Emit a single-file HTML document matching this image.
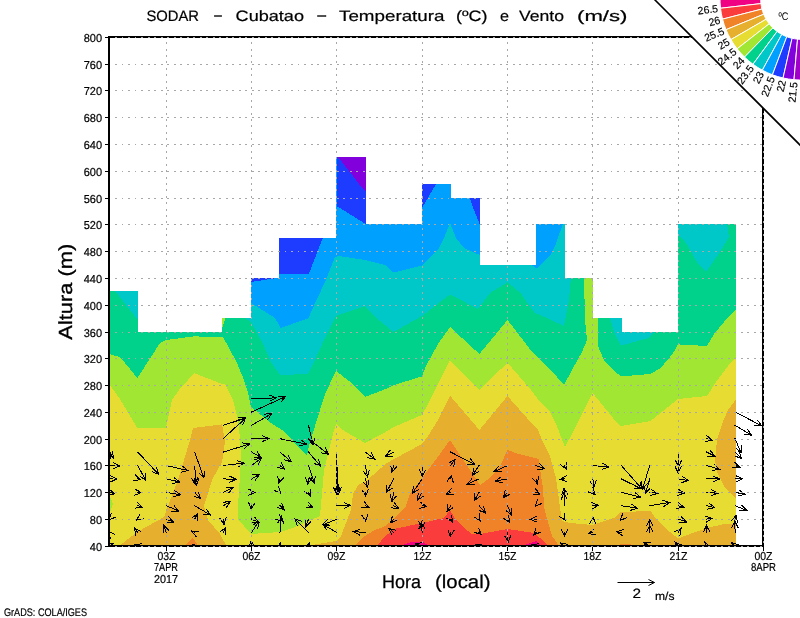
<!DOCTYPE html>
<html><head><meta charset="utf-8"><title>SODAR - Cubatao</title>
<style>html,body{margin:0;padding:0;background:#fff;width:800px;height:618px;overflow:hidden}</style></head>
<body>
<svg width="800" height="618" viewBox="0 0 800 618" style="display:block;position:absolute;left:0;top:0;will-change:transform" shape-rendering="crispEdges" text-rendering="geometricPrecision">
<rect width="800" height="618" fill="#fff"/>
<g>
<rect x="109" y="150" width="628" height="397" fill="#00a0ff"/>
<polygon points="251.0,278.0 277.0,278.0 251.0,282.0" fill="#1e3cff"/>
<polygon points="279.0,237.5 323.0,237.5 309.0,273.5 279.0,273.5" fill="#1e3cff"/>
<polygon points="336.5,157.0 365.5,157.0 365.5,224.0 349.0,213.6 336.5,206.0" fill="#1e3cff"/>
<polygon points="422.0,184.0 436.0,184.0 422.0,208.0" fill="#1e3cff"/>
<polygon points="470.0,198.0 479.5,198.0 479.5,224.0 474.0,210.0" fill="#1e3cff"/>
<polygon points="338.0,157.0 365.5,157.0 365.5,190.6 359.0,184.0 353.0,176.0" fill="#8200dc"/>
<polygon points="109.0,200.0 251.0,200.0 251.0,303.0 275.0,318.0 280.6,328.0 309.0,318.0 311.0,312.0 325.0,282.0 335.0,257.0 339.0,256.0 365.0,260.0 385.0,265.0 393.0,272.0 396.0,272.0 422.0,265.6 438.0,250.0 444.0,238.0 450.0,223.0 456.0,238.0 464.0,248.0 479.8,255.0 500.0,262.0 531.0,264.6 537.0,268.5 550.0,256.0 556.0,244.0 560.0,232.0 563.0,224.0 565.0,215.0 565.0,200.0 740.0,200.0 745.0,200.0 745.0,560.0 100.0,560.0 100.0,200.0" fill="#00c8c8"/>
<polygon points="109.0,280.0 115.0,291.0 138.0,320.0 140.0,315.0 244.0,315.0 245.0,318.0 251.0,322.0 263.0,344.0 271.0,362.0 280.0,375.0 308.0,374.0 313.0,364.0 325.0,338.0 336.0,316.0 365.0,306.0 375.0,317.0 393.6,332.0 422.0,316.0 450.0,294.4 478.0,309.0 490.0,293.0 507.5,282.4 520.5,293.0 534.6,313.0 538.0,314.0 564.0,326.0 569.0,300.0 571.0,277.6 571.0,270.0 610.0,270.0 610.0,318.0 614.0,332.0 621.0,345.6 648.5,338.0 654.5,331.6 655.0,325.0 677.7,325.0 677.7,236.0 682.0,238.0 688.0,246.0 698.0,264.0 706.0,272.0 720.0,252.0 729.0,237.0 727.0,224.0 727.0,215.0 740.0,215.0 745.0,215.0 745.0,560.0 100.0,560.0 100.0,280.0" fill="#00d28c"/>
<polygon points="109.0,354.0 120.0,357.0 137.4,378.0 160.0,343.0 166.0,340.0 194.0,336.4 222.0,337.0 223.0,337.0 236.5,362.0 244.0,380.0 248.0,392.0 251.0,407.0 271.0,423.0 285.0,432.0 301.0,450.0 307.0,455.0 310.0,442.0 315.0,426.0 325.0,394.0 336.0,371.0 353.0,384.0 365.0,397.0 385.6,389.0 394.0,385.0 422.0,376.4 426.0,366.0 438.0,344.0 450.0,327.0 479.4,354.0 507.5,320.0 530.6,350.0 550.0,369.0 564.0,385.0 572.0,370.0 582.0,352.0 587.0,340.0 585.0,320.0 584.0,277.6 584.0,270.0 598.0,270.0 598.0,318.0 598.0,346.0 604.0,360.0 614.0,371.0 621.0,376.4 650.5,374.0 654.0,372.0 660.5,368.0 672.6,354.0 678.0,344.4 707.0,346.0 714.0,334.0 724.0,322.0 736.0,309.0 740.0,305.0 745.0,305.0 745.0,560.0 100.0,560.0 100.0,354.0" fill="#a0e632"/>
<polygon points="109.0,384.0 110.0,385.0 120.0,399.0 137.0,427.6 166.0,427.6 172.0,400.0 182.0,386.0 188.0,380.0 194.0,373.0 222.0,384.0 225.0,384.0 233.0,400.0 238.0,420.0 240.0,438.0 241.0,460.0 238.0,506.0 238.0,519.0 250.0,533.0 251.0,534.0 280.0,532.0 293.0,528.0 309.0,521.0 320.0,516.0 322.0,494.0 324.0,470.0 329.0,450.0 333.0,434.0 336.0,424.0 341.0,429.0 365.0,443.0 385.6,432.0 394.0,427.0 422.0,415.0 428.0,404.0 450.0,360.0 479.4,390.0 507.5,362.7 531.0,390.0 540.0,402.0 550.0,412.0 556.0,424.0 565.0,447.0 572.0,434.0 577.0,424.0 592.6,393.0 618.0,424.0 621.0,426.0 650.5,421.0 678.0,399.0 707.0,396.0 716.0,382.0 728.0,366.0 736.0,357.0 740.0,353.0 745.0,353.0 745.0,560.0 100.0,560.0 100.0,384.0" fill="#e6dc32"/>
<polygon points="109.0,494.0 113.0,504.0 109.0,516.0" fill="#a0e632"/>
<polygon points="222.0,318.0 225.5,318.0 222.0,329.0" fill="#a0e632"/>
<polygon points="118.0,547.0 137.0,532.0 148.0,526.0 164.0,517.0 168.0,506.0 174.0,490.0 178.0,480.0 184.0,460.0 190.0,440.0 193.0,428.0 222.0,424.4 225.0,442.0 222.0,462.0 212.0,480.0 206.0,500.0 204.0,506.0 208.0,520.0 220.0,534.0 227.0,547.0" fill="#e6af2d"/>
<polygon points="300.0,547.0 336.0,541.0 341.0,536.0 351.0,510.0 353.0,494.0 359.0,484.0 365.0,482.0 385.6,464.0 394.0,459.0 422.0,444.0 428.0,436.0 438.0,420.0 450.0,395.6 479.4,430.0 507.5,396.0 530.6,422.0 538.0,430.0 542.0,440.0 550.0,456.0 556.0,478.0 559.0,500.0 562.0,521.0 570.0,523.0 592.0,525.0 598.0,523.0 614.0,518.0 621.0,512.0 650.5,511.0 657.0,520.0 670.0,532.0 678.0,538.5 690.0,534.0 707.0,528.0 724.0,524.0 736.0,524.0 740.0,524.0 740.0,560.0 300.0,560.0" fill="#e6af2d"/>
<polygon points="737.0,398.0 728.0,410.0 722.0,424.0 717.0,440.0 715.0,460.0 717.0,472.0 724.0,486.0 737.0,500.0" fill="#e6af2d"/>
<polygon points="183.0,547.0 193.0,538.0 199.0,547.0" fill="#f08228"/>
<polygon points="353.0,547.0 365.0,536.0 375.0,530.0 385.6,526.0 393.6,519.0 405.0,508.0 410.0,494.0 422.0,478.0 440.0,454.0 450.0,440.0 458.0,452.0 470.0,470.0 480.0,485.0 490.0,478.0 500.0,466.0 507.5,450.0 518.5,454.0 538.6,459.0 542.6,486.0 544.6,510.0 552.0,536.0 560.0,547.0" fill="#f08228"/>
<polygon points="616.0,547.0 622.0,543.5 630.0,543.5 634.0,547.0" fill="#f08228"/>
<polygon points="375.5,547.0 385.6,536.0 394.0,529.0 422.0,523.0 444.0,518.0 450.0,510.0 456.0,520.0 464.0,528.0 472.0,534.0 480.0,534.0 507.5,529.0 534.6,533.0 540.0,538.0 550.0,547.0" fill="#fa3c3c"/>
<polygon points="396.0,547.0 410.0,542.5 422.0,541.5 431.0,547.0" fill="#f00082"/>
<polygon points="518.0,547.0 536.0,541.0 542.0,547.0" fill="#f00082"/>
</g>
<path fill-rule="evenodd" fill="#fff" d="M0,0H800V618H0Z M110,546 L110,291 L138,291 L138,332 L222,332 L222,318 L251,318 L251,278 L279,278 L279,238 L336,238 L336,157 L366,157 L366,224 L422,224 L422,184 L451,184 L451,198 L480,198 L480,265 L536,265 L536,224 L565,224 L565,278 L593,278 L593,318 L622,318 L622,332 L678,332 L678,224 L736,224 L736,546 Z"/>
<clipPath id="pc"><rect x="109" y="37" width="654" height="509"/></clipPath><g clip-path="url(#pc)" stroke="#000" stroke-width="1" fill="none" stroke-linecap="square" shape-rendering="crispEdges"><path d="M109.4,545.9L113.5,543.6M109.4,549.3L113.5,543.6L106.5,544.1 M109.4,532.5L108.6,531.5M114.9,534.6L108.6,531.5L110.2,538.3 M109.4,519.1L108.9,519.6M111.3,513.0L108.9,519.6L115.5,517.3 M109.4,492.3L114.4,493.9M107.5,494.8L114.4,493.9L109.3,489.1 M109.4,478.9L116.9,479.1M110.5,481.9L116.9,479.1L110.6,476.0 M109.4,465.5L119.7,466.0M113.2,468.7L119.7,466.0L113.5,462.7 M109.4,452.1L113.5,458.0M107.4,454.5L113.5,458.0L112.3,451.1 M109.4,438.7L110.3,458.5M107.0,452.3L110.3,458.5L113.0,452.0 M137.8,545.9L134.5,545.0M141.4,543.8L134.5,545.0L139.8,549.5 M137.8,532.5L134.5,528.1M140.7,531.3L134.5,528.1L135.9,535.0 M137.8,519.1L136.5,520.0M140.1,514.0L136.5,520.0L143.4,519.0 M137.8,505.7L142.5,507.3M135.5,508.1L142.5,507.3L137.5,502.4 M137.8,492.3L141.3,492.5M134.8,495.2L141.3,492.5L135.1,489.2 M137.8,478.9L140.3,479.8M133.3,480.5L140.3,479.8L135.3,474.9 M137.8,465.5L145.8,480.5M140.2,476.3L145.8,480.5L145.5,473.5 M137.8,452.1L158.7,474.4M152.2,471.8L158.7,474.4L156.6,467.7 M166.3,532.5L163.8,525.4M168.7,530.4L163.8,525.4L163.1,532.4 M166.3,519.1L173.5,522.0M166.5,522.4L173.5,522.0L168.7,516.9 M166.3,505.7L178.8,511.0M171.8,511.3L178.8,511.0L174.1,505.8 M166.3,492.3L180.6,494.8M173.9,496.6L180.6,494.8L174.9,490.7 M166.3,478.9L179.8,482.0M172.9,483.5L179.8,482.0L174.2,477.7 M166.3,465.5L188.1,470.6M181.3,472.1L188.1,470.6L182.6,466.3 M194.7,545.9L193.0,544.5M199.8,546.2L193.0,544.5L196.0,550.8 M194.7,532.5L191.5,531.0M198.5,531.0L191.5,531.0L196.0,536.4 M194.7,519.1L197.5,513.7M197.3,520.7L197.5,513.7L191.9,518.0 M194.7,505.7L210.4,515.0M203.4,514.3L210.4,515.0L206.5,509.2 M194.7,492.3L200.6,498.8M194.1,496.1L200.6,498.8L198.5,492.1 M194.7,478.9L195.2,484.5M191.7,478.5L195.2,484.5L197.6,477.9 M194.7,465.5L196.2,485.6M192.8,479.5L196.2,485.6L198.7,479.1 M194.7,452.1L203.9,478.1M199.0,473.1L203.9,478.1L204.6,471.1 M223.2,532.5L225.6,527.5M225.5,534.5L225.6,527.5L220.1,531.9 M223.2,519.1L224.0,524.4M220.1,518.6L224.0,524.4L226.0,517.7 M223.2,505.7L230.3,501.6M226.3,507.4L230.3,501.6L223.3,502.2 M223.2,492.3L233.1,487.5M228.7,493.0L233.1,487.5L226.1,487.6 M223.2,478.9L236.2,479.4M229.8,482.2L236.2,479.4L230.0,476.2 M223.2,465.5L244.4,463.1M238.5,466.8L244.4,463.1L237.8,460.8 M223.2,452.1L249.5,444.0M244.3,448.7L249.5,444.0L242.6,443.0 M223.2,438.7L245.6,417.8M243.0,424.3L245.6,417.8L238.9,419.9 M223.2,425.3L245.6,418.1M240.5,422.9L245.6,418.1L238.7,417.2 M251.6,545.9L251.0,541.0M254.7,546.9L251.0,541.0L248.8,547.6 M251.6,532.5L258.8,521.2M257.9,528.2L258.8,521.2L252.8,525.0 M251.6,519.1L259.4,522.8M252.4,522.8L259.4,522.8L254.9,517.4 M251.6,505.7L251.4,509.4M248.8,502.9L251.4,509.4L254.7,503.2 M251.6,492.3L255.2,492.5M248.7,495.2L255.2,492.5L249.0,489.2 M251.6,478.9L259.4,474.4M255.4,480.2L259.4,474.4L252.4,475.0 M251.6,465.5L261.5,458.1M258.2,464.3L261.5,458.1L254.6,459.5 M251.6,452.1L261.2,457.5M254.3,457.0L261.2,457.5L257.2,451.8 M251.6,438.7L268.5,438.5M262.2,441.6L268.5,438.5L262.1,435.6 M251.6,425.3L271.9,413.5M267.9,419.3L271.9,413.5L264.9,414.1 M251.6,412.0L285.6,396.6M281.1,401.9L285.6,396.6L278.6,396.5 M251.6,398.6L276.2,397.9M270.0,401.1L276.2,397.9L269.8,395.1 M280.0,545.9L280.2,542.8M282.9,549.3L280.2,542.8L276.9,549.0 M280.0,532.5L281.4,516.5M283.8,523.1L281.4,516.5L277.9,522.6 M280.0,519.1L282.5,521.0M275.7,519.5L282.5,521.0L279.3,514.8 M280.0,505.7L284.2,509.9M277.6,507.5L284.2,509.9L281.9,503.3 M280.0,492.3L280.7,493.0M274.1,490.5L280.7,493.0L278.4,486.4 M280.0,478.9L278.8,483.1M277.8,476.2L278.8,483.1L283.5,477.9 M280.0,465.5L284.4,469.0M277.6,467.4L284.4,469.0L281.3,462.7 M280.0,452.1L291.3,461.8M284.5,459.9L291.3,461.8L288.4,455.4 M280.0,438.7L306.5,444.1M299.7,445.8L306.5,444.1L300.9,439.9 M308.5,545.9L309.5,542.8M310.4,549.7L309.5,542.8L304.7,547.9 M308.5,532.5L295.0,518.9M301.6,521.3L295.0,518.9L297.3,525.5 M308.5,519.1L305.9,526.6M305.1,519.6L305.9,526.6L310.8,521.6 M308.5,505.7L313.1,507.9M306.1,507.9L313.1,507.9L308.7,502.5 M308.5,492.3L310.2,496.0M304.8,491.6L310.2,496.0L310.2,489.0 M308.5,478.9L307.9,484.1M305.6,477.5L307.9,484.1L311.6,478.1 M308.5,465.5L314.4,483.1M309.5,478.1L314.4,483.1L315.2,476.1 M308.5,452.1L320.6,466.2M314.2,463.4L320.6,466.2L318.7,459.5 M308.5,438.7L328.5,454.4M321.7,452.9L328.5,454.4L325.4,448.1 M308.5,425.3L313.1,445.0M308.7,439.5L313.1,445.0L314.6,438.2 M336.9,532.5L323.0,524.5M330.0,525.1L323.0,524.5L327.0,530.2 M336.9,519.1L322.5,524.9M327.3,519.8L322.5,524.9L329.5,525.3 M336.9,505.7L350.6,505.4M344.3,508.5L350.6,505.4L344.2,502.6 M336.9,492.3L337.0,494.3M333.8,488.1L337.0,494.3L339.7,487.9 M336.9,478.9L337.3,494.5M334.2,488.2L337.3,494.5L340.1,488.1 M336.9,465.5L338.6,494.4M335.2,488.3L338.6,494.4L341.2,487.9 M336.9,452.1L336.3,494.0M333.4,487.6L336.3,494.0L339.4,487.7 M365.4,532.5L353.5,531.6M360.0,529.1L353.5,531.6L359.6,535.1 M365.4,519.1L365.6,521.0M361.8,515.1L365.6,521.0L367.8,514.3 M365.4,505.7L368.8,507.4M361.8,507.3L368.8,507.4L364.4,501.9 M365.4,492.3L365.6,496.2M362.2,490.1L365.6,496.2L368.2,489.7 M365.4,478.9L367.6,487.1M363.0,481.8L367.6,487.1L368.8,480.2 M365.4,465.5L367.5,477.0M363.4,471.3L367.5,477.0L369.3,470.2 M365.4,452.1L374.8,459.2M367.9,457.8L374.8,459.2L371.5,453.0 M393.8,532.5L388.8,528.5M395.6,530.1L388.8,528.5L391.8,534.8 M393.8,519.1L390.6,522.9M392.4,516.1L390.6,522.9L397.0,520.0 M393.8,505.7L398.5,508.3M391.5,507.9L398.5,508.3L394.4,502.6 M393.8,492.3L391.9,501.8M390.2,495.0L391.9,501.8L396.1,496.2 M393.8,478.9L386.2,492.4M386.7,485.4L386.2,492.4L392.0,488.3 M393.8,465.5L391.9,472.2M390.7,465.3L391.9,472.2L396.5,467.0 M393.8,452.1L385.4,456.0M389.9,450.6L385.4,456.0L392.4,456.1 M422.2,545.9L415.0,544.0M421.9,542.7L415.0,544.0L420.4,548.5 M422.2,532.5L421.2,522.2M424.8,528.3L421.2,522.2L418.9,528.8 M422.2,519.1L421.2,528.5M418.9,521.9L421.2,528.5L424.9,522.5 M422.2,505.7L426.5,506.5M419.7,508.3L426.5,506.5L420.8,502.4 M422.2,492.3L417.5,500.2M418.2,493.3L417.5,500.2L423.3,496.4 M422.2,478.9L412.2,493.4M413.4,486.5L412.2,493.4L418.3,489.9 M422.2,465.5L422.5,476.4M419.4,470.1L422.5,476.4L425.3,470.0 M450.7,532.5L450.2,536.6M447.9,530.0L450.2,536.6L453.9,530.6 M450.7,519.1L452.5,522.0M446.6,518.2L452.5,522.0L451.7,515.1 M450.7,505.7L446.9,511.6M447.8,504.7L446.9,511.6L452.8,507.9 M450.7,492.3L446.5,494.0M451.3,488.9L446.5,494.0L453.5,494.4 M450.7,478.9L451.2,475.4M453.2,482.1L451.2,475.4L447.3,481.2 M450.7,465.5L455.0,459.5M453.7,466.4L455.0,459.5L448.9,462.9 M450.7,452.1L474.8,464.5M467.8,464.3L474.8,464.5L470.5,458.9 M479.1,545.9L482.0,545.0M476.9,549.7L482.0,545.0L475.1,544.0 M479.1,532.5L481.2,534.5M474.6,532.4L481.2,534.5L478.7,528.0 M479.1,519.1L480.2,521.0M474.4,517.1L480.2,521.0L479.6,514.0 M479.1,505.7L485.6,513.2M479.2,510.4L485.6,513.2L483.7,506.5 M479.1,492.3L474.4,500.4M475.0,493.4L474.4,500.4L480.2,496.4 M479.1,478.9L467.2,484.2M471.8,478.9L467.2,484.2L474.2,484.4 M479.1,465.5L472.5,475.1M473.6,468.2L472.5,475.1L478.6,471.6 M507.6,532.5L508.1,542.2M504.8,536.1L508.1,542.2L510.7,535.8 M507.6,519.1L509.4,522.2M503.6,518.3L509.4,522.2L508.8,515.3 M507.6,505.7L511.5,515.4M506.3,510.7L511.5,515.4L511.9,508.4 M507.6,492.3L503.5,497.5M505.1,490.7L503.5,497.5L509.8,494.4 M507.6,478.9L495.4,481.0M501.1,477.0L495.4,481.0L502.1,482.9 M507.6,465.5L494.0,471.8M498.5,466.4L494.0,471.8L501.0,471.8 M536.0,545.9L532.0,544.5M539.0,543.8L532.0,544.5L537.0,549.4 M536.0,532.5L533.8,535.0M535.8,528.3L533.8,535.0L540.2,532.3 M536.0,519.1L530.4,519.4M536.6,516.1L530.4,519.4L536.9,522.1 M536.0,505.7L535.5,506.3M537.3,499.5L535.5,506.3L541.9,503.4 M536.0,492.3L540.1,494.0M533.1,494.4L540.1,494.0L535.4,488.8 M536.0,478.9L537.5,483.9M532.8,478.7L537.5,483.9L538.5,477.0 M536.0,465.5L544.8,468.9M537.8,469.4L544.8,468.9L539.9,463.8 M564.4,545.9L560.5,543.0M567.4,544.3L560.5,543.0L563.8,549.2 M564.4,532.5L564.4,536.2M561.5,529.9L564.4,536.2L567.5,530.0 M564.4,519.1L565.0,520.0M559.1,516.2L565.0,520.0L564.2,513.1 M564.4,505.7L564.0,492.9M567.2,499.1L564.0,492.9L561.2,499.3 M564.4,492.3L564.0,488.3M567.7,494.3L564.0,488.3L561.7,494.9 M564.4,478.9L560.2,479.4M566.2,475.7L560.2,479.4L566.9,481.7 M564.4,465.5L566.2,469.2M560.8,464.9L566.2,469.2L566.2,462.3 M592.9,532.5L588.8,533.5M594.2,529.1L588.8,533.5L595.6,534.9 M592.9,519.1L592.9,517.0M595.8,523.4L592.9,517.0L589.8,523.3 M592.9,505.7L598.5,505.2M592.4,508.8L598.5,505.2L591.9,502.8 M592.9,492.3L595.0,494.6M588.5,492.0L595.0,494.6L592.9,487.9 M592.9,478.9L593.8,487.2M590.1,481.3L593.8,487.2L596.1,480.6 M592.9,465.5L608.8,467.0M602.2,469.4L608.8,467.0L602.7,463.4 M621.3,532.5L616.6,531.9M623.3,529.7L616.6,531.9L622.5,535.7 M621.3,519.1L620.3,520.1M622.8,513.5L620.3,520.1L626.9,517.8 M621.3,505.7L637.6,508.2M630.9,510.2L637.6,508.2L631.8,504.3 M621.3,492.3L640.6,497.1M633.7,498.5L640.6,497.1L635.2,492.7 M621.3,478.9L641.2,488.7M634.3,488.6L641.2,488.7L636.9,483.2 M621.3,465.5L641.9,488.9M635.5,486.1L641.9,488.9L640.0,482.2 M649.8,545.9L643.5,542.2M650.5,542.9L643.5,542.2L647.5,548.0 M649.8,532.5L649.8,519.1M652.7,525.4L649.8,519.1L646.8,525.4 M649.8,532.5L649.8,525.4M652.8,531.7L649.8,525.4L646.8,531.7 M649.8,505.7L669.8,502.4M664.0,506.4L669.8,502.4L663.0,500.5 M649.8,492.3L657.5,493.4M650.8,495.5L657.5,493.4L651.6,489.6 M649.8,478.9L645.6,493.2M644.5,486.3L645.6,493.2L650.2,488.0 M649.8,465.5L642.5,488.9M641.5,482.0L642.5,488.9L647.2,483.7 M678.2,545.9L675.0,542.2M681.4,545.0L675.0,542.2L676.9,549.0 M678.2,532.5L681.2,528.2M680.0,535.1L681.2,528.2L675.1,531.7 M678.2,519.1L686.5,522.0M679.5,522.7L686.5,522.0L681.5,517.1 M678.2,505.7L683.8,507.2M676.9,508.4L683.8,507.2L678.4,502.7 M678.2,492.3L684.4,493.0M677.8,495.3L684.4,493.0L678.4,489.3 M678.2,478.9L688.5,480.6M681.8,482.5L688.5,480.6L682.7,476.6 M678.2,465.5L678.2,473.0M675.2,466.7L678.2,473.0L681.2,466.7 M678.2,452.1L678.8,466.8M675.5,460.5L678.8,466.8L681.5,460.3 M706.6,545.9L705.0,542.5M710.4,546.9L705.0,542.5L705.1,549.5 M706.6,532.5L706.4,525.3M709.6,531.5L706.4,525.3L703.6,531.7 M706.6,519.1L712.0,518.3M706.2,522.2L712.0,518.3L705.3,516.3 M706.6,505.7L714.8,507.6M707.9,509.1L714.8,507.6L709.3,503.3 M706.6,492.3L717.8,493.3M711.2,495.7L717.8,493.3L711.8,489.8 M706.6,478.9L719.5,479.0M713.2,482.0L719.5,479.0L713.2,476.0 M706.6,465.5L719.6,469.3M712.7,470.4L719.6,469.3L714.4,464.7 M706.6,452.1L714.8,456.2M707.8,456.1L714.8,456.2L710.5,450.7 M706.6,438.7L712.2,440.0M705.4,441.5L712.2,440.0L706.7,435.7 M735.1,545.9L731.5,542.5M738.1,544.7L731.5,542.5L734.0,549.0 M735.1,532.5L734.8,521.0M737.9,527.3L734.8,521.0L732.0,527.4 M735.1,519.1L736.0,515.3M737.4,522.2L736.0,515.3L731.6,520.7 M735.1,505.7L746.8,510.4M739.8,510.8L746.8,510.4L742.0,505.3 M735.1,492.3L744.9,494.3M738.1,496.0L744.9,494.3L739.3,490.1 M735.1,478.9L742.6,478.7M736.4,481.9L742.6,478.7L736.2,475.9 M735.1,465.5L739.8,467.2M732.8,467.9L739.8,467.2L734.8,462.3 M735.1,452.1L741.5,458.4M734.9,456.1L741.5,458.4L739.1,451.8 M735.1,438.7L741.0,452.8M735.8,448.1L741.0,452.8L741.3,445.8 M735.1,425.3L751.5,435.2M744.5,434.5L751.5,435.2L747.6,429.4 M735.1,412.0L761.9,425.9M754.9,425.6L761.9,425.9L757.7,420.3"/></g>
<g stroke="#000" fill="none">
<line x1="108" y1="37" x2="764" y2="37" stroke-width="2"/>
<line x1="108" y1="546" x2="764" y2="546" stroke-width="2"/>
<line x1="109" y1="36" x2="109" y2="547" stroke-width="2"/>
<line x1="763" y1="36" x2="763" y2="547" stroke-width="2"/>
<line x1="105" x2="109" y1="546.5" y2="546.5" stroke-width="1"/>
<line x1="105" x2="109" y1="519.5" y2="519.5" stroke-width="1"/>
<line x1="105" x2="109" y1="492.5" y2="492.5" stroke-width="1"/>
<line x1="105" x2="109" y1="465.5" y2="465.5" stroke-width="1"/>
<line x1="105" x2="109" y1="439.5" y2="439.5" stroke-width="1"/>
<line x1="105" x2="109" y1="412.5" y2="412.5" stroke-width="1"/>
<line x1="105" x2="109" y1="385.5" y2="385.5" stroke-width="1"/>
<line x1="105" x2="109" y1="358.5" y2="358.5" stroke-width="1"/>
<line x1="105" x2="109" y1="332.5" y2="332.5" stroke-width="1"/>
<line x1="105" x2="109" y1="305.5" y2="305.5" stroke-width="1"/>
<line x1="105" x2="109" y1="278.5" y2="278.5" stroke-width="1"/>
<line x1="105" x2="109" y1="251.5" y2="251.5" stroke-width="1"/>
<line x1="105" x2="109" y1="224.5" y2="224.5" stroke-width="1"/>
<line x1="105" x2="109" y1="198.5" y2="198.5" stroke-width="1"/>
<line x1="105" x2="109" y1="171.5" y2="171.5" stroke-width="1"/>
<line x1="105" x2="109" y1="144.5" y2="144.5" stroke-width="1"/>
<line x1="105" x2="109" y1="117.5" y2="117.5" stroke-width="1"/>
<line x1="105" x2="109" y1="90.5" y2="90.5" stroke-width="1"/>
<line x1="105" x2="109" y1="64.5" y2="64.5" stroke-width="1"/>
<line x1="105" x2="109" y1="37.5" y2="37.5" stroke-width="1"/>
<line y1="546" y2="551" x1="166.5" x2="166.5" stroke-width="1"/>
<line y1="546" y2="551" x1="251.5" x2="251.5" stroke-width="1"/>
<line y1="546" y2="551" x1="336.5" x2="336.5" stroke-width="1"/>
<line y1="546" y2="551" x1="422.5" x2="422.5" stroke-width="1"/>
<line y1="546" y2="551" x1="507.5" x2="507.5" stroke-width="1"/>
<line y1="546" y2="551" x1="592.5" x2="592.5" stroke-width="1"/>
<line y1="546" y2="551" x1="678.5" x2="678.5" stroke-width="1"/>
<line y1="546" y2="551" x1="763.5" x2="763.5" stroke-width="1"/>
</g>
<g stroke="#a8a8a8" stroke-width="1" stroke-dasharray="1.9 4.62" fill="none">
<line x1="115" x2="762.5" y1="546.5" y2="546.5"/>
<line x1="115" x2="762.5" y1="519.5" y2="519.5"/>
<line x1="115" x2="762.5" y1="492.5" y2="492.5"/>
<line x1="115" x2="762.5" y1="465.5" y2="465.5"/>
<line x1="115" x2="762.5" y1="439.5" y2="439.5"/>
<line x1="115" x2="762.5" y1="412.5" y2="412.5"/>
<line x1="115" x2="762.5" y1="385.5" y2="385.5"/>
<line x1="115" x2="762.5" y1="358.5" y2="358.5"/>
<line x1="115" x2="762.5" y1="332.5" y2="332.5"/>
<line x1="115" x2="762.5" y1="305.5" y2="305.5"/>
<line x1="115" x2="762.5" y1="278.5" y2="278.5"/>
<line x1="115" x2="762.5" y1="251.5" y2="251.5"/>
<line x1="115" x2="762.5" y1="224.5" y2="224.5"/>
<line x1="115" x2="762.5" y1="198.5" y2="198.5"/>
<line x1="115" x2="762.5" y1="171.5" y2="171.5"/>
<line x1="115" x2="762.5" y1="144.5" y2="144.5"/>
<line x1="115" x2="762.5" y1="117.5" y2="117.5"/>
<line x1="115" x2="762.5" y1="90.5" y2="90.5"/>
<line x1="115" x2="762.5" y1="64.5" y2="64.5"/>
<line x1="115" x2="762.5" y1="37.5" y2="37.5"/>
<line y1="42.2" y2="546" x1="166.5" x2="166.5" stroke-dasharray="1.9 4.5"/>
<line y1="42.2" y2="546" x1="251.5" x2="251.5" stroke-dasharray="1.9 4.5"/>
<line y1="42.2" y2="546" x1="336.5" x2="336.5" stroke-dasharray="1.9 4.5"/>
<line y1="42.2" y2="546" x1="422.5" x2="422.5" stroke-dasharray="1.9 4.5"/>
<line y1="42.2" y2="546" x1="507.5" x2="507.5" stroke-dasharray="1.9 4.5"/>
<line y1="42.2" y2="546" x1="592.5" x2="592.5" stroke-dasharray="1.9 4.5"/>
<line y1="42.2" y2="546" x1="678.5" x2="678.5" stroke-dasharray="1.9 4.5"/>
<line y1="42.2" y2="546" x1="763.5" x2="763.5" stroke-dasharray="1.9 4.5"/>
</g>
<polygon points="655,0 800,0 800,145" fill="#fff"/>
<line x1="654" y1="-1" x2="801" y2="146" stroke="#000" stroke-width="1.6" shape-rendering="auto"/>
<g shape-rendering="auto">
<path d="M720.02,-2.84 A81.0,81.0 0 0 0 720.53,8.24 L760.96,3.60 A40.3,40.3 0 0 1 760.71,-1.91 Z" fill="#f00082" stroke="#fff" stroke-width="1"/>
<path d="M720.53,8.24 A81.0,81.0 0 0 0 722.54,19.14 L761.97,9.02 A40.3,40.3 0 0 1 760.96,3.60 Z" fill="#fa3c3c" stroke="#fff" stroke-width="1"/>
<path d="M722.54,19.14 A81.0,81.0 0 0 0 726.03,29.67 L763.70,14.26 A40.3,40.3 0 0 1 761.97,9.02 Z" fill="#f08228" stroke="#fff" stroke-width="1"/>
<path d="M726.03,29.67 A81.0,81.0 0 0 0 730.92,39.62 L766.13,19.21 A40.3,40.3 0 0 1 763.70,14.26 Z" fill="#e6af2d" stroke="#fff" stroke-width="1"/>
<path d="M730.92,39.62 A81.0,81.0 0 0 0 737.13,48.81 L769.22,23.78 A40.3,40.3 0 0 1 766.13,19.21 Z" fill="#e6dc32" stroke="#fff" stroke-width="1"/>
<path d="M737.13,48.81 A81.0,81.0 0 0 0 744.53,57.07 L772.90,27.89 A40.3,40.3 0 0 1 769.22,23.78 Z" fill="#a0e632" stroke="#fff" stroke-width="1"/>
<path d="M744.53,57.07 A81.0,81.0 0 0 0 752.99,64.24 L777.11,31.46 A40.3,40.3 0 0 1 772.90,27.89 Z" fill="#00d28c" stroke="#fff" stroke-width="1"/>
<path d="M752.99,64.24 A81.0,81.0 0 0 0 762.35,70.18 L781.77,34.42 A40.3,40.3 0 0 1 777.11,31.46 Z" fill="#00c8c8" stroke="#fff" stroke-width="1"/>
<path d="M762.35,70.18 A81.0,81.0 0 0 0 772.43,74.80 L786.79,36.71 A40.3,40.3 0 0 1 781.77,34.42 Z" fill="#00a0ff" stroke="#fff" stroke-width="1"/>
<path d="M772.43,74.80 A81.0,81.0 0 0 0 783.05,77.99 L792.07,38.30 A40.3,40.3 0 0 1 786.79,36.71 Z" fill="#1e3cff" stroke="#fff" stroke-width="1"/>
<path d="M783.05,77.99 A81.0,81.0 0 0 0 794.01,79.70 L797.52,39.15 A40.3,40.3 0 0 1 792.07,38.30 Z" fill="#8200dc" stroke="#fff" stroke-width="1"/>
<path d="M794.01,79.70 A81.0,81.0 0 0 0 805.10,79.90 L803.04,39.25 A40.3,40.3 0 0 1 797.52,39.15 Z" fill="#a000c8" stroke="#fff" stroke-width="1"/>
</g>
<g font-family="'Liberation Sans',sans-serif" font-size="10.5" fill="#000" stroke="#000" stroke-width="0.15" text-anchor="end" shape-rendering="auto">
<text transform="translate(718.0,8.5) rotate(-6.5)" y="3.6">26.5</text>
<text transform="translate(720.1,19.8) rotate(-14.4)" y="3.6">26</text>
<text transform="translate(723.7,30.6) rotate(-22.2)" y="3.6">25.5</text>
<text transform="translate(728.8,40.9) rotate(-30.1)" y="3.6">25</text>
<text transform="translate(735.2,50.4) rotate(-38.0)" y="3.6">24.5</text>
<text transform="translate(742.8,58.9) rotate(-45.8)" y="3.6">24</text>
<text transform="translate(751.5,66.3) rotate(-53.6)" y="3.6">23.5</text>
<text transform="translate(761.2,72.4) rotate(-61.5)" y="3.6">23</text>
<text transform="translate(771.6,77.1) rotate(-69.3)" y="3.6">22.5</text>
<text transform="translate(782.5,80.4) rotate(-77.2)" y="3.6">22</text>
<text transform="translate(793.8,82.2) rotate(-85.0)" y="3.6">21.5</text>
</g>
<text x="778.5" y="20" font-family="'Liberation Sans',sans-serif" font-size="11" textLength="10" lengthAdjust="spacingAndGlyphs">ºC</text>
<text x="146.4" y="20.6" font-family="'Liberation Sans',sans-serif" font-size="15" textLength="52.6" lengthAdjust="spacingAndGlyphs" stroke="#000" stroke-width="0.2">SODAR</text>
<text x="213.0" y="19.8" font-family="'Liberation Sans',sans-serif" font-size="15" textLength="10.0" lengthAdjust="spacingAndGlyphs" stroke="#000" stroke-width="0.2">-</text>
<text x="235.6" y="20.6" font-family="'Liberation Sans',sans-serif" font-size="15" textLength="68.4" lengthAdjust="spacingAndGlyphs" stroke="#000" stroke-width="0.2">Cubatao</text>
<text x="316.0" y="19.8" font-family="'Liberation Sans',sans-serif" font-size="15" textLength="11.5" lengthAdjust="spacingAndGlyphs" stroke="#000" stroke-width="0.2">-</text>
<text x="339.0" y="20.6" font-family="'Liberation Sans',sans-serif" font-size="15" textLength="105.5" lengthAdjust="spacingAndGlyphs" stroke="#000" stroke-width="0.2">Temperatura</text>
<text x="456.0" y="20.6" font-family="'Liberation Sans',sans-serif" font-size="15" textLength="31.5" lengthAdjust="spacingAndGlyphs" stroke="#000" stroke-width="0.2">(ºC)</text>
<text x="500.0" y="20.6" font-family="'Liberation Sans',sans-serif" font-size="15" textLength="9.0" lengthAdjust="spacingAndGlyphs" stroke="#000" stroke-width="0.2">e</text>
<text x="519.0" y="20.6" font-family="'Liberation Sans',sans-serif" font-size="15" textLength="45.0" lengthAdjust="spacingAndGlyphs" stroke="#000" stroke-width="0.2">Vento</text>
<text x="577.0" y="20.6" font-family="'Liberation Sans',sans-serif" font-size="15" textLength="50.5" lengthAdjust="spacingAndGlyphs" stroke="#000" stroke-width="0.2">(m/s)</text>
<text x="89.8" y="550.5" font-family="'Liberation Sans',sans-serif" font-size="11.5" textLength="12.2" lengthAdjust="spacingAndGlyphs" stroke="#000" stroke-width="0.2">40</text>
<text x="89.8" y="523.5" font-family="'Liberation Sans',sans-serif" font-size="11.5" textLength="12.2" lengthAdjust="spacingAndGlyphs" stroke="#000" stroke-width="0.2">80</text>
<text x="83.7" y="496.5" font-family="'Liberation Sans',sans-serif" font-size="11.5" textLength="18.3" lengthAdjust="spacingAndGlyphs" stroke="#000" stroke-width="0.2">120</text>
<text x="83.7" y="469.5" font-family="'Liberation Sans',sans-serif" font-size="11.5" textLength="18.3" lengthAdjust="spacingAndGlyphs" stroke="#000" stroke-width="0.2">160</text>
<text x="83.7" y="443.5" font-family="'Liberation Sans',sans-serif" font-size="11.5" textLength="18.3" lengthAdjust="spacingAndGlyphs" stroke="#000" stroke-width="0.2">200</text>
<text x="83.7" y="416.5" font-family="'Liberation Sans',sans-serif" font-size="11.5" textLength="18.3" lengthAdjust="spacingAndGlyphs" stroke="#000" stroke-width="0.2">240</text>
<text x="83.7" y="389.5" font-family="'Liberation Sans',sans-serif" font-size="11.5" textLength="18.3" lengthAdjust="spacingAndGlyphs" stroke="#000" stroke-width="0.2">280</text>
<text x="83.7" y="362.5" font-family="'Liberation Sans',sans-serif" font-size="11.5" textLength="18.3" lengthAdjust="spacingAndGlyphs" stroke="#000" stroke-width="0.2">320</text>
<text x="83.7" y="336.5" font-family="'Liberation Sans',sans-serif" font-size="11.5" textLength="18.3" lengthAdjust="spacingAndGlyphs" stroke="#000" stroke-width="0.2">360</text>
<text x="83.7" y="309.5" font-family="'Liberation Sans',sans-serif" font-size="11.5" textLength="18.3" lengthAdjust="spacingAndGlyphs" stroke="#000" stroke-width="0.2">400</text>
<text x="83.7" y="282.5" font-family="'Liberation Sans',sans-serif" font-size="11.5" textLength="18.3" lengthAdjust="spacingAndGlyphs" stroke="#000" stroke-width="0.2">440</text>
<text x="83.7" y="255.5" font-family="'Liberation Sans',sans-serif" font-size="11.5" textLength="18.3" lengthAdjust="spacingAndGlyphs" stroke="#000" stroke-width="0.2">480</text>
<text x="83.7" y="228.5" font-family="'Liberation Sans',sans-serif" font-size="11.5" textLength="18.3" lengthAdjust="spacingAndGlyphs" stroke="#000" stroke-width="0.2">520</text>
<text x="83.7" y="202.5" font-family="'Liberation Sans',sans-serif" font-size="11.5" textLength="18.3" lengthAdjust="spacingAndGlyphs" stroke="#000" stroke-width="0.2">560</text>
<text x="83.7" y="175.5" font-family="'Liberation Sans',sans-serif" font-size="11.5" textLength="18.3" lengthAdjust="spacingAndGlyphs" stroke="#000" stroke-width="0.2">600</text>
<text x="83.7" y="148.5" font-family="'Liberation Sans',sans-serif" font-size="11.5" textLength="18.3" lengthAdjust="spacingAndGlyphs" stroke="#000" stroke-width="0.2">640</text>
<text x="83.7" y="121.5" font-family="'Liberation Sans',sans-serif" font-size="11.5" textLength="18.3" lengthAdjust="spacingAndGlyphs" stroke="#000" stroke-width="0.2">680</text>
<text x="83.7" y="94.5" font-family="'Liberation Sans',sans-serif" font-size="11.5" textLength="18.3" lengthAdjust="spacingAndGlyphs" stroke="#000" stroke-width="0.2">720</text>
<text x="83.7" y="68.5" font-family="'Liberation Sans',sans-serif" font-size="11.5" textLength="18.3" lengthAdjust="spacingAndGlyphs" stroke="#000" stroke-width="0.2">760</text>
<text x="83.7" y="41.5" font-family="'Liberation Sans',sans-serif" font-size="11.5" textLength="18.3" lengthAdjust="spacingAndGlyphs" stroke="#000" stroke-width="0.2">800</text>
<text x="157.5" y="560.3" font-family="'Liberation Sans',sans-serif" font-size="11.5" textLength="18.0" lengthAdjust="spacingAndGlyphs" stroke="#000" stroke-width="0.2">03Z</text>
<text x="242.5" y="560.3" font-family="'Liberation Sans',sans-serif" font-size="11.5" textLength="18.0" lengthAdjust="spacingAndGlyphs" stroke="#000" stroke-width="0.2">06Z</text>
<text x="327.5" y="560.3" font-family="'Liberation Sans',sans-serif" font-size="11.5" textLength="18.0" lengthAdjust="spacingAndGlyphs" stroke="#000" stroke-width="0.2">09Z</text>
<text x="413.5" y="560.3" font-family="'Liberation Sans',sans-serif" font-size="11.5" textLength="18.0" lengthAdjust="spacingAndGlyphs" stroke="#000" stroke-width="0.2">12Z</text>
<text x="498.5" y="560.3" font-family="'Liberation Sans',sans-serif" font-size="11.5" textLength="18.0" lengthAdjust="spacingAndGlyphs" stroke="#000" stroke-width="0.2">15Z</text>
<text x="583.5" y="560.3" font-family="'Liberation Sans',sans-serif" font-size="11.5" textLength="18.0" lengthAdjust="spacingAndGlyphs" stroke="#000" stroke-width="0.2">18Z</text>
<text x="669.5" y="560.3" font-family="'Liberation Sans',sans-serif" font-size="11.5" textLength="18.0" lengthAdjust="spacingAndGlyphs" stroke="#000" stroke-width="0.2">21Z</text>
<text x="754.5" y="560.3" font-family="'Liberation Sans',sans-serif" font-size="11.5" textLength="18.0" lengthAdjust="spacingAndGlyphs" stroke="#000" stroke-width="0.2">00Z</text>
<text x="154.0" y="571.3" font-family="'Liberation Sans',sans-serif" font-size="11.5" textLength="24.0" lengthAdjust="spacingAndGlyphs" stroke="#000" stroke-width="0.2">7APR</text>
<text x="154.0" y="582.5" font-family="'Liberation Sans',sans-serif" font-size="11.5" textLength="24.0" lengthAdjust="spacingAndGlyphs" stroke="#000" stroke-width="0.2">2017</text>
<text x="751.0" y="571.3" font-family="'Liberation Sans',sans-serif" font-size="11.5" textLength="25.0" lengthAdjust="spacingAndGlyphs" stroke="#000" stroke-width="0.2">8APR</text>
<text x="4.0" y="616.0" font-family="'Liberation Sans',sans-serif" font-size="11" textLength="83.0" lengthAdjust="spacingAndGlyphs" stroke="#000" stroke-width="0.2">GrADS: COLA/IGES</text>
<text x="382.0" y="587.5" font-family="'Liberation Sans',sans-serif" font-size="18.5" textLength="39.0" lengthAdjust="spacingAndGlyphs" stroke="#000" stroke-width="0.25">Hora</text>
<text x="435.0" y="587.5" font-family="'Liberation Sans',sans-serif" font-size="18.5" textLength="55.5" lengthAdjust="spacingAndGlyphs" stroke="#000" stroke-width="0.25">(local)</text>
<text transform="translate(71.7,339.7) rotate(-90)" font-family="'Liberation Sans',sans-serif" font-size="19" textLength="96" lengthAdjust="spacingAndGlyphs" stroke="#000" stroke-width="0.3">Altura (m)</text>
<g stroke="#000" stroke-width="1" fill="none" shape-rendering="auto"><path d="M617.5,582.5 L654.5,582.5 M648.5,579.5 L654.5,582.5 L648.5,585.5"/></g>
<text x="632.5" y="597.5" font-family="'Liberation Sans',sans-serif" font-size="13.5" textLength="8.5" lengthAdjust="spacingAndGlyphs" stroke="#000" stroke-width="0.2">2</text>
<text x="655.0" y="600.0" font-family="'Liberation Sans',sans-serif" font-size="11.5" textLength="19.5" lengthAdjust="spacingAndGlyphs" stroke="#000" stroke-width="0.2">m/s</text>
</svg>
</body></html>
